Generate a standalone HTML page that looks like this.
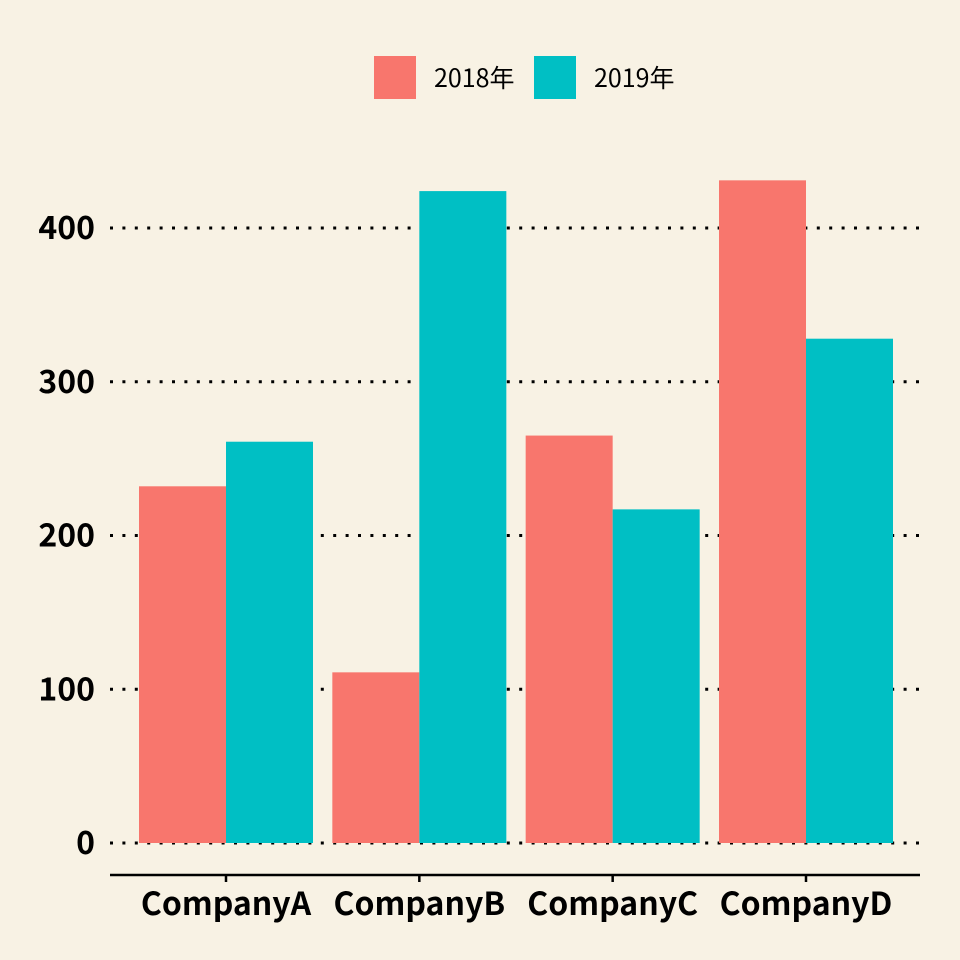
<!DOCTYPE html>
<html><head><meta charset="utf-8">
<style>
body{margin:0;background:#f8f2e4;}
svg{display:block;font-family:"Noto Sans CJK JP","Liberation Sans",sans-serif;}
</style></head>
<body>
<svg id="chart" width="960" height="960" viewBox="0 0 960 960">
<rect x="0" y="0" width="960" height="960" fill="#f8f2e4"/>
<g id="grid"></g>
<g id="bars"></g>
<g id="axes"></g>
<g id="legend"></g>
</svg>
<script>
const categories = ["CompanyA","CompanyB","CompanyC","CompanyD"];
const series2018 = [232,111,265,431];
const series2019 = [261,424,217,328];
const yTicks = [0,100,200,300,400];
const seriesNames = ["2018年","2019年"];
const colors = ["#f8766d","#00bfc4"];

const NS="http://www.w3.org/2000/svg";
const X0=110, X1=922, Y0=843, PX=1.5375;
const unit=(X1-X0)/(categories.length+0.2);
function xc(i){return X0+(i+0.6)*unit;}
function y(v){return Y0-v*PX;}
function mk(tag,attrs,parent){const e=document.createElementNS(NS,tag);for(const k in attrs)e.setAttribute(k,attrs[k]);parent.appendChild(e);return e;}

const grid=document.getElementById('grid');
const bars=document.getElementById('bars');
const axes=document.getElementById('axes');
const legend=document.getElementById('legend');

yTicks.forEach(t=>{
  const l=mk('line',{x1:X0,x2:922,y1:y(t),y2:y(t),stroke:'#000','stroke-width':3,'stroke-dasharray':'3 9.4'},grid);
  
  
  const tx=mk('text',{x:95,y:y(t)+11,'text-anchor':'end','font-size':32,'font-weight':'bold',fill:'#000'},axes);
  tx.textContent=t;
  
  
});

const bw=unit*0.45;
[series2018,series2019].forEach((s,si)=>{
  s.forEach((v,i)=>{
    const x=xc(i)-bw+si*bw;
    const r=mk('rect',{x:x,y:y(v),width:bw,height:v*PX,fill:colors[si]},bars);
    
    
  });
});

const ax=mk('line',{x1:X0,x2:920,y1:875,y2:875,stroke:'#000','stroke-width':2.5},axes);


categories.forEach((c,i)=>{
  const tk=mk('line',{x1:xc(i),x2:xc(i),y1:875,y2:882,stroke:'#000','stroke-width':2.5},axes);
  
  
  const t=mk('text',{x:xc(i),y:915,'text-anchor':'middle','font-size':32,'font-weight':'bold',fill:'#000'},axes);
  t.textContent=c;
  
  
});

seriesNames.forEach((n,si)=>{
  const lx=374+si*160;
  const r=mk('rect',{x:lx,y:56,width:42,height:43,fill:colors[si]},legend);
  
  
  const t=mk('text',{x:lx+60,y:87,'font-size':25,fill:'#000'},legend);
  t.textContent=n;
  
  
});
</script>
</body></html>
